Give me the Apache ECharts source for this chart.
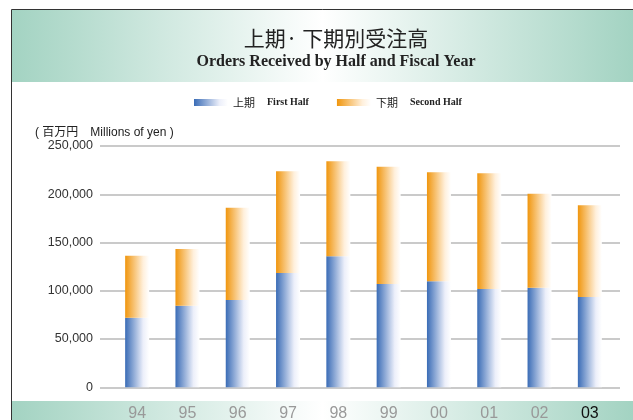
<!DOCTYPE html>
<html>
<head>
<meta charset="utf-8">
<script src="https://cdn.jsdelivr.net/npm/echarts@6/dist/echarts.min.js"></script>
<style>
html, body { margin: 0; padding: 0; background: #fff; }
#chart { width: 633px; height: 420px; }
</style>
</head>
<body>
<div id="chart"></div>
<script>
// 年度
const years = ['94', '95', '96', '97', '98', '99', '00', '01', '02', '03'];
// 上期 First Half (百万円)
const firstHalf = [72000, 84500, 90400, 118300, 135900, 106900, 110000, 101800, 103100, 93500];
// 下期 Second Half (百万円)
const secondHalf = [64200, 58700, 95500, 105600, 98400, 121500, 112900, 120000, 97300, 95200];
const seriesNames = ['上期', '下期'];
const seriesEn = ['First Half', 'Second Half'];

const myChart = echarts.init(document.getElementById('chart'));

// 横方向のグラデーション（帯・棒）
function hGrad(stops) {
    return new echarts.graphic.LinearGradient(0, 0, 1, 0, stops);
}
const bandGrad = () => hGrad([
    {offset: 0, color: '#a3d3c2'},
    {offset: 0.5, color: '#ffffff'},
    {offset: 1, color: '#a3d3c2'}
]);
const blueGrad = hGrad([
    {offset: 0, color: '#3a6cb6'},
    {offset: 0.75, color: '#eceffa'},
    {offset: 1, color: '#ffffff'}
]);
const orangeGrad = hGrad([
    {offset: 0, color: '#f0960e'},
    {offset: 0.75, color: '#fff0dc'},
    {offset: 1, color: '#ffffff'}
]);

const yearData = years.map(function (y, i) {
    return i === years.length - 1 ? {value: y, textStyle: {color: '#111'}} : y;
});

const option = {
    animation: false,
    backgroundColor: '#fff',
    title: [{
        text: '上期· 下期別受注高',
        left: 331,
        top: 23,
        textAlign: 'center',
        textStyle: {fontFamily: 'Noto Sans CJK JP', fontSize: 21, fontWeight: 'normal', color: '#222'}
    }, {
        text: 'Orders Received by Half and Fiscal Year',
        left: 331,
        top: 49,
        textAlign: 'center',
        textStyle: {fontFamily: 'Liberation Serif', fontSize: 16, fontWeight: 'bold', color: '#222'}
    }, {
        text: '( 百万円　Millions of yen )',
        left: 30,
        top: 122,
        textStyle: {fontFamily: 'Liberation Sans, Noto Sans CJK JP', fontSize: 12, fontWeight: 'normal', color: '#222'}
    }],
    legend: {
        data: seriesNames,
        left: 189,
        top: 92,
        icon: 'rect',
        itemWidth: 34,
        itemHeight: 7,
        itemGap: 28,
        formatter: function (name) {
            return name + '{en|' + seriesEn[seriesNames.indexOf(name)] + '}';
        },
        textStyle: {
            fontFamily: 'Noto Sans CJK JP',
            fontSize: 11,
            color: '#222',
            rich: {
                en: {fontFamily: 'Liberation Serif', fontWeight: 'bold', fontSize: 10, color: '#222', padding: [0, 0, 0, 12]}
            }
        }
    },
    graphic: [{
        type: 'rect', z: -10,
        shape: {x: 12, y: 9, width: 621, height: 73},
        style: {fill: bandGrad()}
    }, {
        type: 'rect', z: -10,
        shape: {x: 12, y: 401, width: 621, height: 19},
        style: {fill: bandGrad()}
    }, {
        type: 'polyline', z: 5,
        shape: {points: [[11.5, 420], [11.5, 9.5], [633, 9.5]]},
        style: {stroke: '#333', lineWidth: 1, fill: null}
    }],
    grid: [
        {left: 100, right: 13, top: 146, bottom: 32.7, outerBoundsMode: 'none'},
        {left: 112, right: 18, top: 146, bottom: 32.7, outerBoundsMode: 'none'}
    ],
    xAxis: [{
        type: 'category', gridIndex: 0, data: years, show: false
    }, {
        type: 'category', gridIndex: 1, data: yearData,
        axisLine: {show: false}, axisTick: {show: false},
        axisLabel: {margin: 18, fontFamily: 'Liberation Sans Narrow, Liberation Sans', fontSize: 16, color: '#999'}
    }],
    yAxis: [{
        type: 'value', gridIndex: 0, min: 0, max: 250000, interval: 50000,
        axisLine: {show: false}, axisTick: {show: false},
        axisLabel: {
            margin: 7, fontFamily: 'Liberation Sans', fontSize: 12.5, color: '#333',
            formatter: function (v) { return v.toLocaleString('en-US'); }
        },
        splitLine: {lineStyle: {color: '#b8b8b8', width: 1.5}}
    }, {
        type: 'value', gridIndex: 1, min: 0, max: 250000, interval: 50000, show: false
    }],
    series: [{
        name: seriesNames[0], type: 'bar', stack: 'total',
        xAxisIndex: 1, yAxisIndex: 1, barWidth: 24,
        itemStyle: {color: blueGrad},
        data: firstHalf
    }, {
        name: seriesNames[1], type: 'bar', stack: 'total',
        xAxisIndex: 1, yAxisIndex: 1, barWidth: 24,
        itemStyle: {color: orangeGrad},
        data: secondHalf
    }]
};

myChart.setOption(option);
</script>
</body>
</html>
